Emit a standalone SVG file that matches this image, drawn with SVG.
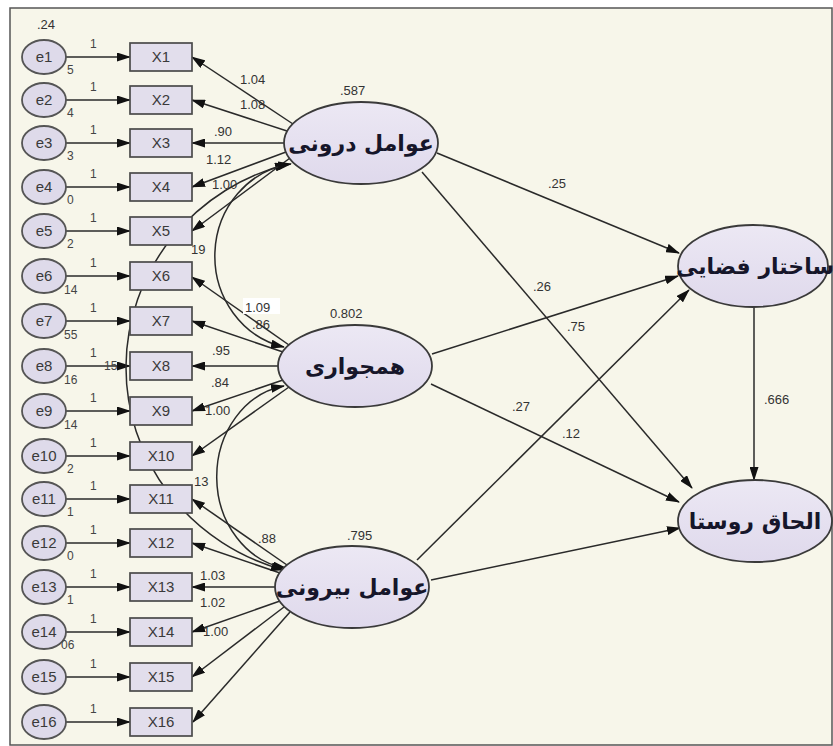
<svg xmlns="http://www.w3.org/2000/svg" width="833" height="746" viewBox="0 0 833 746">
<defs>
<marker id="ah" markerWidth="14" markerHeight="9" refX="13" refY="4.5" orient="auto-start-reverse" markerUnits="userSpaceOnUse">
<path d="M0,0 L14,4.5 L0,9 Z" fill="#111"/>
</marker>
<linearGradient id="lat" x1="0" y1="0" x2="0" y2="1">
<stop offset="0" stop-color="#ece8f4"/>
<stop offset="1" stop-color="#dfd9ec"/>
</linearGradient>
</defs>
<style>
.obs{fill:#e2deec;stroke:#4a4a4a;stroke-width:1.7}
.err{fill:#dedaea;stroke:#555;stroke-width:1.8}
.latent{fill:url(#lat);stroke:#3a3a3a;stroke-width:1.8}
.lbl{font-family:"Liberation Sans",Arial,sans-serif;font-size:15px;fill:#3a3a3a;text-anchor:middle}
.num{font-family:"Liberation Sans",Arial,sans-serif;font-size:13px;fill:#333}
.sm{font-family:"Liberation Sans",Arial,sans-serif;font-size:12px;fill:#444}
.fa{font-family:"DejaVu Sans","Noto Sans",sans-serif;font-size:22px;font-weight:bold;fill:#16162a;text-anchor:middle}
.cn line,.cn path{stroke:#2a2a2a;stroke-width:1.5;fill:none}
</style>
<rect x="0" y="0" width="833" height="746" fill="#ffffff"/>
<rect x="10" y="8" width="822" height="737" fill="#f7f6ea" stroke="#555" stroke-width="1.5"/>

<g id="connectors" class="cn">
<!-- error to indicator -->
<line x1="66" y1="57" x2="130" y2="57" marker-end="url(#ah)"/>
<line x1="66" y1="100" x2="130" y2="100" marker-end="url(#ah)"/>
<line x1="66" y1="143" x2="130" y2="143" marker-end="url(#ah)"/>
<line x1="66" y1="187" x2="130" y2="187" marker-end="url(#ah)"/>
<line x1="66" y1="231" x2="130" y2="231" marker-end="url(#ah)"/>
<line x1="66" y1="276" x2="130" y2="276" marker-end="url(#ah)"/>
<line x1="66" y1="321" x2="130" y2="321" marker-end="url(#ah)"/>
<line x1="66" y1="366" x2="130" y2="366" marker-end="url(#ah)"/>
<line x1="66" y1="411" x2="130" y2="411" marker-end="url(#ah)"/>
<line x1="66" y1="456" x2="130" y2="456" marker-end="url(#ah)"/>
<line x1="66" y1="499" x2="130" y2="499" marker-end="url(#ah)"/>
<line x1="66" y1="543" x2="130" y2="543" marker-end="url(#ah)"/>
<line x1="66" y1="587" x2="130" y2="587" marker-end="url(#ah)"/>
<line x1="66" y1="632" x2="130" y2="632" marker-end="url(#ah)"/>
<line x1="66" y1="677" x2="130" y2="677" marker-end="url(#ah)"/>
<line x1="66" y1="722" x2="130" y2="722" marker-end="url(#ah)"/>
<!-- loadings: internal factors -->
<line x1="293" y1="124" x2="192" y2="57" marker-end="url(#ah)"/>
<line x1="287" y1="131" x2="192" y2="100" marker-end="url(#ah)"/>
<line x1="284" y1="143" x2="192" y2="143" marker-end="url(#ah)"/>
<line x1="286" y1="152" x2="192" y2="187" marker-end="url(#ah)"/>
<line x1="290" y1="158" x2="192" y2="231" marker-end="url(#ah)"/>
<!-- loadings: neighbourhood -->
<line x1="289" y1="345" x2="192" y2="277" marker-end="url(#ah)"/>
<line x1="283" y1="352" x2="192" y2="321" marker-end="url(#ah)"/>
<line x1="278" y1="366" x2="192" y2="366" marker-end="url(#ah)"/>
<line x1="283" y1="380" x2="192" y2="411" marker-end="url(#ah)"/>
<line x1="289" y1="387" x2="192" y2="456" marker-end="url(#ah)"/>
<!-- loadings: external factors -->
<line x1="287" y1="565" x2="192" y2="499" marker-end="url(#ah)"/>
<line x1="280" y1="573" x2="192" y2="543" marker-end="url(#ah)"/>
<line x1="275" y1="587" x2="192" y2="587" marker-end="url(#ah)"/>
<line x1="280" y1="601" x2="192" y2="632" marker-end="url(#ah)"/>
<line x1="284" y1="607" x2="192" y2="677" marker-end="url(#ah)"/>
<line x1="290" y1="612" x2="193" y2="722" marker-end="url(#ah)"/>
<!-- covariances -->
<path d="M288,164 A215,210 0 0,0 284,570" marker-start="url(#ah)" marker-end="url(#ah)"/>
<path d="M291,164 A88,93 0 0,0 284,347" marker-start="url(#ah)" marker-end="url(#ah)"/>
<path d="M284,386 A80,92 0 0,0 286,568" marker-start="url(#ah)" marker-end="url(#ah)"/>
<!-- structural paths -->
<line x1="437" y1="153" x2="679" y2="253" marker-end="url(#ah)"/>
<line x1="422" y1="172" x2="692" y2="488" marker-end="url(#ah)"/>
<line x1="432" y1="354" x2="678" y2="276" marker-end="url(#ah)"/>
<line x1="431" y1="384" x2="679" y2="502" marker-end="url(#ah)"/>
<line x1="417" y1="560" x2="689" y2="290" marker-end="url(#ah)"/>
<line x1="431" y1="580" x2="680" y2="528" marker-end="url(#ah)"/>
<line x1="754" y1="307" x2="754" y2="480" marker-end="url(#ah)"/>
</g>

<g id="errors">
<g id="e1"><ellipse class="err" cx="44" cy="57" rx="22" ry="17"/><text class="lbl" x="44" y="62">e1</text></g>
<g id="e2"><ellipse class="err" cx="44" cy="100" rx="22" ry="17"/><text class="lbl" x="44" y="105">e2</text></g>
<g id="e3"><ellipse class="err" cx="44" cy="143" rx="22" ry="17"/><text class="lbl" x="44" y="148">e3</text></g>
<g id="e4"><ellipse class="err" cx="44" cy="187" rx="22" ry="17"/><text class="lbl" x="44" y="192">e4</text></g>
<g id="e5"><ellipse class="err" cx="44" cy="231" rx="22" ry="17"/><text class="lbl" x="44" y="236">e5</text></g>
<g id="e6"><ellipse class="err" cx="44" cy="276" rx="22" ry="17"/><text class="lbl" x="44" y="281">e6</text></g>
<g id="e7"><ellipse class="err" cx="44" cy="321" rx="22" ry="17"/><text class="lbl" x="44" y="326">e7</text></g>
<g id="e8"><ellipse class="err" cx="44" cy="366" rx="22" ry="17"/><text class="lbl" x="44" y="371">e8</text></g>
<g id="e9"><ellipse class="err" cx="44" cy="411" rx="22" ry="17"/><text class="lbl" x="44" y="416">e9</text></g>
<g id="e10"><ellipse class="err" cx="44" cy="456" rx="22" ry="17"/><text class="lbl" x="44" y="461">e10</text></g>
<g id="e11"><ellipse class="err" cx="44" cy="499" rx="22" ry="17"/><text class="lbl" x="44" y="504">e11</text></g>
<g id="e12"><ellipse class="err" cx="44" cy="543" rx="22" ry="17"/><text class="lbl" x="44" y="548">e12</text></g>
<g id="e13"><ellipse class="err" cx="44" cy="587" rx="22" ry="17"/><text class="lbl" x="44" y="592">e13</text></g>
<g id="e14"><ellipse class="err" cx="44" cy="632" rx="22" ry="17"/><text class="lbl" x="44" y="637">e14</text></g>
<g id="e15"><ellipse class="err" cx="44" cy="677" rx="22" ry="17"/><text class="lbl" x="44" y="682">e15</text></g>
<g id="e16"><ellipse class="err" cx="44" cy="722" rx="22" ry="17"/><text class="lbl" x="44" y="727">e16</text></g>
</g>

<g id="indicators">
<g id="X1"><rect class="obs" x="130" y="43" width="62" height="28"/><text class="lbl" x="161" y="62">X1</text></g>
<g id="X2"><rect class="obs" x="130" y="86" width="62" height="28"/><text class="lbl" x="161" y="105">X2</text></g>
<g id="X3"><rect class="obs" x="130" y="129" width="62" height="28"/><text class="lbl" x="161" y="148">X3</text></g>
<g id="X4"><rect class="obs" x="130" y="173" width="62" height="28"/><text class="lbl" x="161" y="192">X4</text></g>
<g id="X5"><rect class="obs" x="130" y="217" width="62" height="28"/><text class="lbl" x="161" y="236">X5</text></g>
<g id="X6"><rect class="obs" x="130" y="262" width="62" height="28"/><text class="lbl" x="161" y="281">X6</text></g>
<g id="X7"><rect class="obs" x="130" y="307" width="62" height="28"/><text class="lbl" x="161" y="326">X7</text></g>
<g id="X8"><rect class="obs" x="130" y="352" width="62" height="28"/><text class="lbl" x="161" y="371">X8</text></g>
<g id="X9"><rect class="obs" x="130" y="397" width="62" height="28"/><text class="lbl" x="161" y="416">X9</text></g>
<g id="X10"><rect class="obs" x="130" y="442" width="62" height="28"/><text class="lbl" x="161" y="461">X10</text></g>
<g id="X11"><rect class="obs" x="130" y="485" width="62" height="28"/><text class="lbl" x="161" y="504">X11</text></g>
<g id="X12"><rect class="obs" x="130" y="529" width="62" height="28"/><text class="lbl" x="161" y="548">X12</text></g>
<g id="X13"><rect class="obs" x="130" y="573" width="62" height="28"/><text class="lbl" x="161" y="592">X13</text></g>
<g id="X14"><rect class="obs" x="130" y="618" width="62" height="28"/><text class="lbl" x="161" y="637">X14</text></g>
<g id="X15"><rect class="obs" x="130" y="663" width="62" height="28"/><text class="lbl" x="161" y="682">X15</text></g>
<g id="X16"><rect class="obs" x="130" y="708" width="62" height="28"/><text class="lbl" x="161" y="727">X16</text></g>
</g>

<g id="internal"><ellipse class="latent" cx="361" cy="143" rx="77" ry="41"/><text class="fa" x="361" y="151">عوامل درونی</text></g>
<g id="neighbourhood"><ellipse class="latent" cx="355" cy="366" rx="77" ry="41"/><text class="fa" x="355" y="374">همجواری</text></g>
<g id="external"><ellipse class="latent" cx="352" cy="587" rx="77" ry="41"/><text class="fa" x="352" y="595">عوامل بیرونی</text></g>
<g id="spatial"><ellipse class="latent" cx="753" cy="266" rx="75" ry="41"/><text class="fa" x="755" y="274">ساختار فضایی</text></g>
<g id="annexation"><ellipse class="latent" cx="755" cy="521" rx="77" ry="41"/><text class="fa" x="755" y="529">الحاق روستا</text></g>

<g id="labels">
<text class="num" x="37" y="29">.24</text>
<text class="sm" x="90" y="48">1</text><text class="sm" x="90" y="91">1</text><text class="sm" x="90" y="134">1</text><text class="sm" x="90" y="178">1</text>
<text class="sm" x="90" y="222">1</text><text class="sm" x="90" y="267">1</text><text class="sm" x="90" y="312">1</text><text class="sm" x="90" y="357">1</text>
<text class="sm" x="90" y="402">1</text><text class="sm" x="90" y="447">1</text><text class="sm" x="90" y="490">1</text><text class="sm" x="90" y="534">1</text>
<text class="sm" x="90" y="578">1</text><text class="sm" x="90" y="623">1</text><text class="sm" x="90" y="668">1</text><text class="sm" x="90" y="713">1</text>
<text class="sm" x="67" y="74">5</text><text class="sm" x="67" y="117">4</text><text class="sm" x="67" y="160">3</text><text class="sm" x="67" y="204">0</text>
<text class="sm" x="67" y="248">2</text><text class="sm" x="64" y="294">14</text><text class="sm" x="64" y="339">55</text><text class="sm" x="64" y="384">16</text>
<text class="sm" x="64" y="429">14</text><text class="sm" x="67" y="473">2</text><text class="sm" x="67" y="516">1</text><text class="sm" x="67" y="560">0</text>
<text class="sm" x="67" y="604">1</text><text class="sm" x="61" y="649">06</text>
<text class="sm" x="104" y="370">15</text>
<text class="num" x="240" y="84">1.04</text>
<text class="num" x="240" y="109" fill="#666">1.08</text>
<text class="num" x="214" y="136">.90</text>
<text class="num" x="206" y="164">1.12</text>
<text class="num" x="212" y="189" fill="#666">1.00</text>
<text class="num" x="191" y="254">19</text>
<rect x="243" y="298" width="37" height="16" fill="#ffffff"/>
<text class="num" x="245" y="312">1.09</text>
<text class="num" x="252" y="329" fill="#666">.86</text>
<text class="num" x="212" y="355">.95</text>
<text class="num" x="211" y="387">.84</text>
<text class="num" x="205" y="415">1.00</text>
<text class="num" x="194" y="486">13</text>
<text class="num" x="258" y="543" fill="#1f3d73">.88</text>
<text class="num" x="200" y="580">1.03</text>
<text class="num" x="200" y="607">1.02</text>
<text class="num" x="203" y="636">1.00</text>
<text class="num" x="340" y="95">.587</text>
<text class="num" x="330" y="318">0.802</text>
<text class="num" x="347" y="540">.795</text>
<text class="num" x="548" y="188">.25</text>
<text class="num" x="533" y="291">.26</text>
<text class="num" x="567" y="331">.75</text>
<text class="num" x="512" y="411">.27</text>
<text class="num" x="562" y="438">.12</text>
<text class="num" x="764" y="404">.666</text>
</g>
</svg>
